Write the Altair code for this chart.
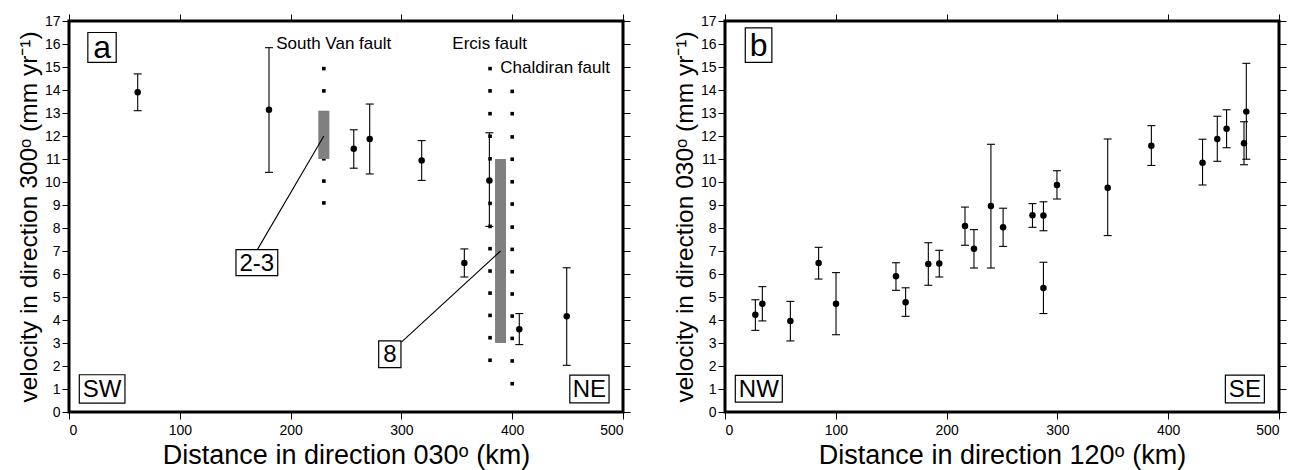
import altair as alt
import pandas as pd

FONT = "Liberation Sans"

# ---------------- panel a data ----------------
a_x = [62, 180.5, 257, 271.4, 318.3, 379.4, 356.8, 406.4, 449.2]
a_v = [13.9, 13.14, 11.45, 11.87, 10.94, 10.07, 6.48, 3.6, 4.16]
a_hi = [14.7, 15.84, 12.27, 13.39, 11.8, 12.14, 7.09, 4.28, 6.27]
a_lo = [13.1, 10.42, 10.6, 10.35, 10.07, 8.07, 5.87, 2.93, 2.03]

southvan_x = 230
southvan_dots = [14.93, 13.96, 12.98, 12.0, 11.01, 10.04, 9.09]
ercis_x = 380
ercis_dots = [14.93, 13.96, 12.97, 11.99, 11.01, 10.04, 9.07, 8.07, 7.1,
              6.13, 5.17, 4.2, 3.23, 2.25]
chaldiran_x = 400
chaldiran_dots = [13.94, 12.97, 11.96, 10.99, 10.01, 9.04, 8.04, 7.07, 6.1,
                  5.13, 4.17, 3.2, 2.22, 1.23]

# gray slip-rate boxes: x1, x2, y1, y2
rate_x1 = [225, 384.5]
rate_x2 = [235, 394.4]
rate_y1 = [11.0, 3.0]
rate_y2 = [13.1, 11.0]

# leader lines: from box to label
lead_x1 = [230, 389.5]
lead_y1 = [12.0, 7.0]
lead_x2 = [170, 300]
lead_y2 = [7.06, 3.04]

fault_names = ["South Van fault", "Ercis fault", "Chaldiran fault"]
fault_lx = [187, 346, 389.3]
fault_ly = [16.0, 16.0, 14.96]

# boxed labels panel a
a_lab = ["a", "SW", "NE", "2-3", "8"]
a_lab_x1 = [17, 9.3, 452, 150.7, 279.5]
a_lab_x2 = [42.6, 50.5, 487.4, 188.4, 299.6]
a_lab_y1 = [15.2, 0.39, 0.4, 5.93, 1.93]
a_lab_y2 = [16.5, 1.62, 1.6, 7.06, 3.09]
a_lab_size = [32, 24, 24, 24, 24]

# ---------------- panel b data ----------------
b_x = [27.4, 33.7, 59, 84.5, 100.2, 154.3, 163, 183.5, 193.4, 216.6, 224.7,
       240, 251, 277.5, 287.4, 287.4, 299.6, 345.4, 384.8, 431, 444.3, 452.7,
       468.4, 470.5]
b_v = [4.23, 4.71, 3.96, 6.48, 4.71, 5.9, 4.77, 6.43, 6.46, 8.09, 7.1, 8.96,
       8.03, 8.55, 8.54, 5.39, 9.87, 9.75, 11.58, 10.84, 11.87, 12.32, 11.68,
       13.06]
b_hi = [4.88, 5.45, 4.81, 7.16, 6.06, 6.49, 5.4, 7.36, 7.03, 8.91, 7.93, 11.64,
        8.86, 9.06, 9.14, 6.51, 10.49, 11.87, 12.45, 11.86, 12.86, 13.14, 12.62,
        15.16]
b_lo = [3.55, 3.96, 3.09, 5.78, 3.36, 5.29, 4.16, 5.51, 5.87, 7.25, 6.26, 6.26,
        7.2, 8.03, 7.88, 4.28, 9.26, 7.67, 10.72, 9.87, 10.9, 11.49, 10.75,
        10.99]

b_lab = ["b", "NW", "SE"]
b_lab_x1 = [18.3, 9.3, 451.6]
b_lab_x2 = [42.3, 51.7, 486.8]
b_lab_y1 = [15.2, 0.43, 0.4]
b_lab_y2 = [16.7, 1.59, 1.6]
b_lab_size = [32, 24, 24]

x_ticks = [0, 100, 200, 300, 400, 500]
y_ticks = list(range(0, 18))

W, H = 554, 391

xs = alt.Scale(domain=[0, 500], nice=False, zero=False)
ys = alt.Scale(domain=[0, 17], nice=False, zero=False)

CAP = "M-1,0L1,0"


def ax(orient, title=None, labels=True):
    horiz = orient in ("top", "bottom")
    kw = dict(orient=orient, values=(x_ticks if horiz else y_ticks),
              labels=labels, domain=False, ticks=True, tickSize=7, tickWidth=1,
              tickColor="black", labelColor="black", labelFont=FONT,
              labelFontSize=14, labelPadding=(4 if horiz else 2), grid=False)
    if title is not None:
        kw.update(title=title, titleFont=FONT,
                  titleFontSize=(27 if horiz else 24.5),
                  titleFontWeight="normal", titleColor="black",
                  titlePadding=(5 if horiz else 3))
    else:
        kw.update(title=None)
    return alt.Axis(**kw)


def panel(px, pv, phi, plo, lab, lx1, lx2, ly1, ly2, lsize, xtitle, ytitle,
          extra_layers):
    pts = pd.DataFrame({"x": px, "v": pv, "hi": phi, "lo": plo})
    labs = pd.DataFrame({"t": lab, "x1": lx1, "x2": lx2, "y1": ly1, "y2": ly2,
                         "s": lsize})
    labs["xc"] = (labs.x1 + labs.x2) / 2
    labs["yc"] = (labs.y1 + labs.y2) / 2

    bars = alt.Chart(pts).mark_rule(color="black", strokeWidth=1.1).encode(
        x=alt.X("x:Q", scale=xs, axis=ax("bottom", xtitle)),
        y=alt.Y("lo:Q", scale=ys, axis=ax("left", ytitle)),
        y2="hi:Q",
    )
    cap_hi = alt.Chart(pts).mark_point(shape=CAP, size=64, filled=False,
                                       stroke="black", strokeWidth=1.1,
                                       opacity=1).encode(
        x=alt.X("x:Q", scale=xs, axis=None),
        y=alt.Y("hi:Q", scale=ys, axis=None),
    )
    cap_lo = alt.Chart(pts).mark_point(shape=CAP, size=64, filled=False,
                                       stroke="black", strokeWidth=1.1,
                                       opacity=1).encode(
        x=alt.X("x:Q", scale=xs, axis=None),
        y=alt.Y("lo:Q", scale=ys, axis=None),
    )
    dots = alt.Chart(pts).mark_circle(size=42, color="black", opacity=1).encode(
        x=alt.X("x:Q", scale=xs, axis=ax("top", labels=False)),
        y=alt.Y("v:Q", scale=ys, axis=ax("right", labels=False)),
    )
    boxes = alt.Chart(labs).mark_rect(fill="white", stroke="black",
                                      strokeWidth=1.2).encode(
        x=alt.X("x1:Q", scale=xs, axis=None), x2="x2:Q",
        y=alt.Y("y1:Q", scale=ys, axis=None), y2="y2:Q",
    )
    texts = alt.Chart(labs).mark_text(font=FONT, color="black", align="center",
                                      baseline="middle", dy=1).encode(
        x=alt.X("xc:Q", scale=xs, axis=None),
        y=alt.Y("yc:Q", scale=ys, axis=None),
        text="t:N",
        size=alt.Size("s:Q", scale=None, legend=None),
    )
    layers = list(extra_layers) + [boxes, texts, bars, cap_hi, cap_lo, dots]
    return alt.layer(*layers).resolve_axis(x="independent", y="independent").properties(
        width=W, height=H)


# extra layers for panel a
fdots = pd.DataFrame({
    "x": [southvan_x] * len(southvan_dots) + [ercis_x] * len(ercis_dots)
         + [chaldiran_x] * len(chaldiran_dots),
    "y": southvan_dots + ercis_dots + chaldiran_dots,
})
rates = pd.DataFrame({"x1": rate_x1, "x2": rate_x2, "y1": rate_y1, "y2": rate_y2})
leads = pd.DataFrame({"x1": lead_x1, "y1": lead_y1, "x2": lead_x2, "y2": lead_y2})
fl = pd.DataFrame({"t": fault_names, "x": fault_lx, "y": fault_ly})

fault_layer = alt.Chart(fdots).mark_square(size=13, color="black", opacity=1).encode(
    x=alt.X("x:Q", scale=xs, axis=None), y=alt.Y("y:Q", scale=ys, axis=None))
rate_layer = alt.Chart(rates).mark_rect(color="#808080").encode(
    x=alt.X("x1:Q", scale=xs, axis=None), x2="x2:Q",
    y=alt.Y("y1:Q", scale=ys, axis=None), y2="y2:Q")
lead_layer = alt.Chart(leads).mark_rule(color="black", strokeWidth=1.1).encode(
    x=alt.X("x1:Q", scale=xs, axis=None), x2="x2:Q",
    y=alt.Y("y1:Q", scale=ys, axis=None), y2="y2:Q")
fl_layer = alt.Chart(fl).mark_text(font=FONT, fontSize=17, color="black",
                                   align="left", baseline="middle").encode(
    x=alt.X("x:Q", scale=xs, axis=None), y=alt.Y("y:Q", scale=ys, axis=None),
    text="t:N")

pa = panel(a_x, a_v, a_hi, a_lo, a_lab, a_lab_x1, a_lab_x2, a_lab_y1, a_lab_y2,
           a_lab_size, "Distance in direction 030ᵒ (km)",
           "velocity in direction 300ᵒ (mm yr⁻¹)",
           [fault_layer, rate_layer, lead_layer, fl_layer])
pb = panel(b_x, b_v, b_hi, b_lo, b_lab, b_lab_x1, b_lab_x2, b_lab_y1, b_lab_y2,
           b_lab_size, "Distance in direction 120ᵒ (km)",
           "velocity in direction 030ᵒ (mm yr⁻¹)", [])

chart = alt.hconcat(pa, pb, spacing=38).properties(
    padding={"left": 6, "top": 4, "right": 0, "bottom": 0},
    background="white",
).configure_view(stroke="black", strokeWidth=3)

chart.save("out.html", embed_options={"renderer": "svg", "actions": False})
